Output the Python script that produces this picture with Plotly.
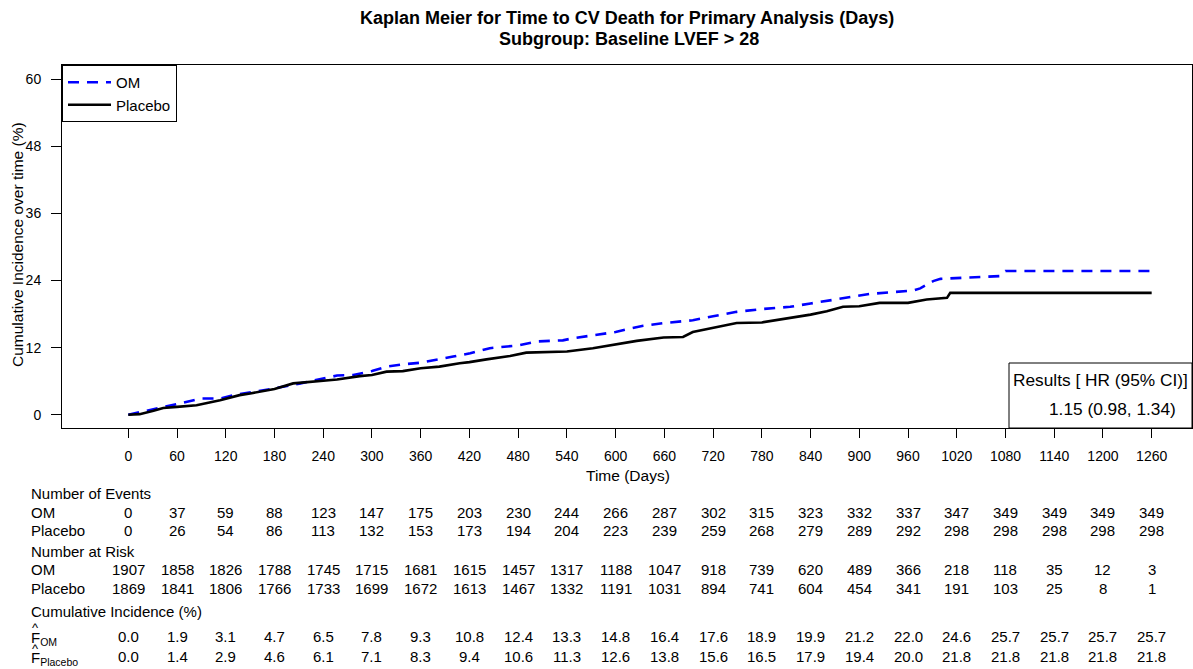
import plotly.graph_objects as go

W, H = 1193, 669
FONT = "Liberation Sans, Arial, sans-serif"

# ---------------- data ----------------
tick_days = [0, 60, 120, 180, 240, 300, 360, 420, 480, 540, 600, 660,
             720, 780, 840, 900, 960, 1020, 1080, 1140, 1200, 1260]
y_ticks = [0, 12, 24, 36, 48, 60]

events_om = [0, 37, 59, 88, 123, 147, 175, 203, 230, 244, 266, 287,
             302, 315, 323, 332, 337, 347, 349, 349, 349, 349]
events_pl = [0, 26, 54, 86, 113, 132, 153, 173, 194, 204, 223, 239,
             259, 268, 279, 289, 292, 298, 298, 298, 298, 298]
risk_om = [1907, 1858, 1826, 1788, 1745, 1715, 1681, 1615, 1457, 1317, 1188, 1047,
           918, 739, 620, 489, 366, 218, 118, 35, 12, 3]
risk_pl = [1869, 1841, 1806, 1766, 1733, 1699, 1672, 1613, 1467, 1332, 1191, 1031,
           894, 741, 604, 454, 341, 191, 103, 25, 8, 1]
ci_om = [0.0, 1.9, 3.1, 4.7, 6.5, 7.8, 9.3, 10.8, 12.4, 13.3, 14.8, 16.4,
         17.6, 18.9, 19.9, 21.2, 22.0, 24.6, 25.7, 25.7, 25.7, 25.7]
ci_pl = [0.0, 1.4, 2.9, 4.6, 6.1, 7.1, 8.3, 9.4, 10.6, 11.3, 12.6, 13.8,
         15.6, 16.5, 17.9, 19.4, 20.0, 21.8, 21.8, 21.8, 21.8, 21.8]

# curves (days, cumulative incidence %)
om_days = [0, 10, 30, 60, 90, 113, 133, 150, 170, 180, 212, 240, 257, 277, 300,
           318, 338, 360, 388, 400, 421, 445, 480, 503, 535, 548, 577, 600, 614,
           634, 660, 695, 720, 749, 780, 815, 840, 872, 900, 913, 966, 975, 991,
           1000, 1073, 1080, 1260]
om_ci = [0.0, 0.3, 1.0, 1.9, 2.9, 2.9, 3.6, 4.0, 4.5, 4.7, 5.6, 6.5, 7.0, 7.1, 7.8,
         8.6, 9.0, 9.3, 10.0, 10.4, 11.0, 11.9, 12.4, 13.1, 13.3, 13.7, 14.3, 14.8, 15.3,
         15.9, 16.4, 16.9, 17.6, 18.4, 18.9, 19.3, 19.9, 20.6, 21.2, 21.6, 22.2, 22.6, 23.9,
         24.3, 24.8, 25.7, 25.7]
pl_days = [0, 14, 31, 43, 60, 84, 113, 120, 137, 150, 180, 203, 236, 257, 285, 300,
           318, 338, 360, 383, 408, 420, 441, 470, 490, 540, 572, 600, 626, 659, 683,
           695, 720, 749, 780, 815, 840, 860, 880, 900, 925, 960, 983, 1008, 1012, 1260]
pl_ci = [0.0, 0.1, 0.7, 1.2, 1.4, 1.7, 2.6, 2.9, 3.5, 3.8, 4.6, 5.6, 6.1, 6.3, 6.9, 7.1,
         7.7, 7.8, 8.3, 8.6, 9.2, 9.4, 9.9, 10.5, 11.1, 11.3, 11.9, 12.6, 13.2, 13.8, 13.9,
         14.8, 15.6, 16.4, 16.5, 17.3, 17.9, 18.5, 19.3, 19.4, 20.0, 20.0, 20.6, 20.9, 21.8, 21.8]

# ---------------- geometry helpers ----------------
def px(x):
    return x / W

def py(y):
    return 1 - y / H

PLOT_L, PLOT_R, PLOT_T, PLOT_B = 62, 1192, 65, 428

fig = go.Figure()
fig.add_trace(go.Scatter(x=om_days, y=om_ci, mode="lines", name="OM",
                         line=dict(color="#0000FF", width=2.6, dash="11px,8px")))
fig.add_trace(go.Scatter(x=pl_days, y=pl_ci, mode="lines", name="Placebo",
                         line=dict(color="#000000", width=2.6)))
# empty trace so the overlay axes (visible tick marks) are drawn
fig.add_trace(go.Scatter(x=[], y=[], xaxis="x2", yaxis="y2", showlegend=False,
                         hoverinfo="skip"))

def note(text, x, y, size, xanchor="center", xref="paper", angle=0):
    return dict(text=text, x=x, y=py(y), xref=xref, yref="paper", showarrow=False,
                xanchor=xanchor, yanchor="middle", textangle=angle,
                font=dict(size=size, family=FONT, color="black"))

ann = []
# titles
ann.append(note("<b>Kaplan Meier for Time to CV Death for Primary Analysis (Days)</b>", px(627), 18, 18))
ann.append(note("<b>Subgroup: Baseline LVEF > 28</b>", px(629), 39, 18))
# axis titles
ann.append(note("Cumulative Incidence over time (%)", px(17), 245, 15.5, angle=-90))
ann.append(note("Time (Days)", px(628), 475, 15.5))

# results box text
ann.append(note("Results [ HR (95% CI)]", px(1100), 380, 17.3))
ann.append(note("1.15 (0.98, 1.34)", px(1112), 409, 17.3))

# risk table
TS = 15
LX = px(29)
labels = [("Number of Events", 494), ("OM", 512), ("Placebo", 530.5),
          ("Number at Risk", 551), ("OM", 569.5), ("Placebo", 588),
          ("Cumulative Incidence (%)", 611.5)]
for txt, yy in labels:
    ann.append(note(txt, LX, yy, TS, xanchor="left"))
# F-hat labels
ann.append(note("F<sub>OM</sub>", LX, 638, TS, xanchor="left"))
ann.append(note("F<sub>Placebo</sub>", LX, 658, TS, xanchor="left"))
ann.append(note("^", px(30), 627, 13, xanchor="left"))
ann.append(note("^", px(30), 648, 13, xanchor="left"))

rows = [(events_om, 512, "{}"), (events_pl, 530.5, "{}"),
        (risk_om, 569.5, "{}"), (risk_pl, 588, "{}"),
        (ci_om, 636.5, "{:.1f}"), (ci_pl, 656, "{:.1f}")]
for vals, yy, fmt in rows:
    for d, v in zip(tick_days, vals):
        ann.append(note(fmt.format(v), d, yy, TS, xref="x"))

shapes = [dict(type="rect", xref="paper", yref="paper",
               x0=px(1009), x1=px(1192), y0=py(428), y1=py(363),
               line=dict(color="black", width=1), fillcolor="white", layer="above")]

x_lo = (PLOT_L - 128.3) / 0.8122
x_hi = (PLOT_R - 128.3) / 0.8122
y_lo = (414.7 - PLOT_B) / 5.59
y_hi = (414.7 - PLOT_T) / 5.59

TRANSP = "rgba(0,0,0,0)"
fig.update_layout(
    width=W, height=H,
    margin=dict(l=0, r=0, t=0, b=0),
    paper_bgcolor="white", plot_bgcolor="white",
    font=dict(family=FONT, color="black"),
    showlegend=True,
    legend=dict(x=px(PLOT_L), y=py(PLOT_T), xanchor="left", yanchor="top",
                bgcolor="white", bordercolor="black", borderwidth=1,
                font=dict(size=15, family=FONT, color="black"),
                tracegroupgap=0, itemwidth=43),
    # primary axes: box + tick labels (long transparent ticks push labels outward)
    xaxis=dict(domain=[px(PLOT_L), px(PLOT_R)], range=[x_lo, x_hi],
               tickmode="array", tickvals=tick_days, ticktext=[str(t) for t in tick_days],
               ticks="outside", ticklen=15, tickcolor=TRANSP, tickwidth=1,
               showline=True, linecolor="black", linewidth=1, mirror=True,
               showgrid=False, zeroline=False,
               tickfont=dict(size=14, family=FONT, color="black")),
    yaxis=dict(domain=[py(PLOT_B), py(PLOT_T)], range=[y_lo, y_hi],
               tickmode="array", tickvals=y_ticks, ticktext=[str(t) for t in y_ticks],
               ticks="outside", ticklen=17, tickcolor=TRANSP, tickwidth=1,
               showline=True, linecolor="black", linewidth=1, mirror=True,
               showgrid=False, zeroline=False,
               tickfont=dict(size=14, family=FONT, color="black")),
    # overlay axes: visible tick marks only
    xaxis2=dict(overlaying="x", matches="x", anchor="y", side="bottom",
                tickmode="array", tickvals=tick_days,
                ticks="outside", ticklen=9, tickcolor="black", tickwidth=1,
                showticklabels=False, showline=False, showgrid=False, zeroline=False),
    yaxis2=dict(overlaying="y", matches="y", anchor="x", side="left",
                tickmode="array", tickvals=y_ticks,
                ticks="outside", ticklen=10, tickcolor="black", tickwidth=1,
                showticklabels=False, showline=False, showgrid=False, zeroline=False),
    annotations=ann,
    shapes=shapes,
)

fig.write_html("out.html")
